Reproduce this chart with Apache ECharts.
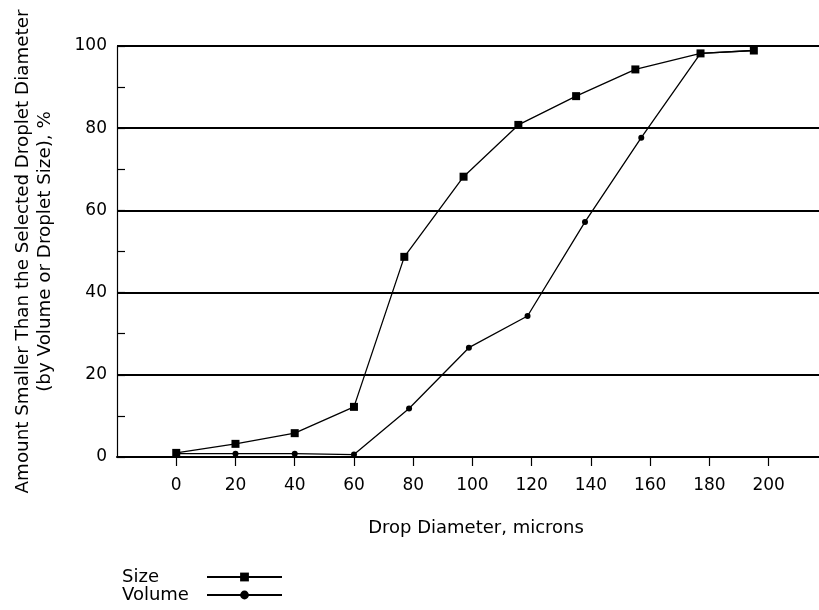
<!DOCTYPE html>
<html>
<head>
<meta charset="utf-8">
<script src="https://cdn.jsdelivr.net/npm/echarts@6/dist/echarts.min.js"></script>
<style>
html,body{margin:0;padding:0;background:#fff;}
#chart{width:819px;height:610px;}
</style>
</head>
<body>
<div id="chart"></div>
<script>
// Data
const sizeX = [0, 20, 40, 60, 77, 97, 115.5, 135, 155, 177, 195];
const sizeY = [1, 3.2, 5.8, 12.2, 48.7, 68.2, 80.8, 87.8, 94.3, 98.2, 98.9];
const volumeX = [0, 20, 40, 60, 78.6, 98.8, 118.6, 138, 157, 177, 195];
const volumeY = [0.8, 0.8, 0.8, 0.6, 11.8, 26.6, 34.3, 57.2, 77.7, 98.2, 98.9];
const xTickValues = [0, 20, 40, 60, 80, 100, 120, 140, 160, 180, 200];
const seriesNames = ['Size', 'Volume'];
const xTitle = 'Drop Diameter, microns';
const yTitle = 'Amount Smaller Than the Selected Droplet Diameter\n(by Volume or Droplet Size), %';

const FONT = 'DejaVu Sans';
const pair = (xs, ys) => xs.map((x, i) => [x, ys[i]]);

const chart = echarts.init(document.getElementById('chart'), null, {renderer: 'canvas'});
chart.setOption({
  animation: false,
  backgroundColor: '#fff',
  grid: {left: 117, right: 0, top: 46, bottom: 153, containLabel: false},
  xAxis: {
    type: 'value',
    min: -20,
    max: 217,
    interval: 20,
    name: xTitle,
    nameLocation: 'middle',
    nameGap: 62,
    nameTextStyle: {fontFamily: FONT, fontSize: 18, color: '#000', padding: [0, 0, 0, 16]},
    axisLine: {show: true, onZero: false, lineStyle: {color: '#000', width: 2}},
    axisTick: {show: true, inside: false, length: 9, customValues: xTickValues, lineStyle: {color: '#000', width: 1.2}},
    axisLabel: {show: true, customValues: xTickValues, margin: 20, fontFamily: FONT, fontSize: 17, color: '#000'},
    splitLine: {show: false}
  },
  yAxis: {
    type: 'value',
    min: 0,
    max: 100,
    interval: 20,
    name: yTitle,
    nameLocation: 'middle',
    nameGap: 61,
    nameRotate: 90,
    nameTextStyle: {fontFamily: FONT, fontSize: 18.3, color: '#000', lineHeight: 22, align: 'center'},
    axisLine: {show: true, onZero: false, lineStyle: {color: '#000', width: 1.2}},
    axisTick: {show: true, inside: true, length: 8, lineStyle: {color: '#000', width: 1.2}},
    minorTick: {show: true, splitNumber: 2, length: 8, lineStyle: {color: '#000', width: 1.2}},
    axisLabel: {show: true, margin: 10, fontFamily: FONT, fontSize: 17, color: '#000'},
    splitLine: {show: true, lineStyle: {color: '#000', width: 2}},
    minorSplitLine: {show: false}
  },
  legend: {
    orient: 'vertical',
    left: 122,
    top: 568,
    height: 42,
    align: 'right',
    itemWidth: 75,
    itemHeight: 11,
    itemGap: 0,
    padding: 0,
    data: seriesNames,
    formatter: '{t|{name}}',
    textStyle: {
      fontFamily: FONT, fontSize: 18, color: '#000',
      rich: {t: {width: 80, height: 19, align: 'left', fontFamily: FONT, fontSize: 18, color: '#000'}}
    }
  },
  series: [
    {
      name: seriesNames[1],
      type: 'line',
      data: pair(volumeX, volumeY),
      symbol: 'circle',
      symbolSize: 6,
      z: 2,
      itemStyle: {color: '#000'},
      lineStyle: {color: '#000', width: 1.3}
    },
    {
      name: seriesNames[0],
      type: 'line',
      data: pair(sizeX, sizeY),
      symbol: 'rect',
      symbolSize: 8,
      z: 3,
      itemStyle: {color: '#000'},
      lineStyle: {color: '#000', width: 1.3}
    }
  ]
});
</script>
</body>
</html>
